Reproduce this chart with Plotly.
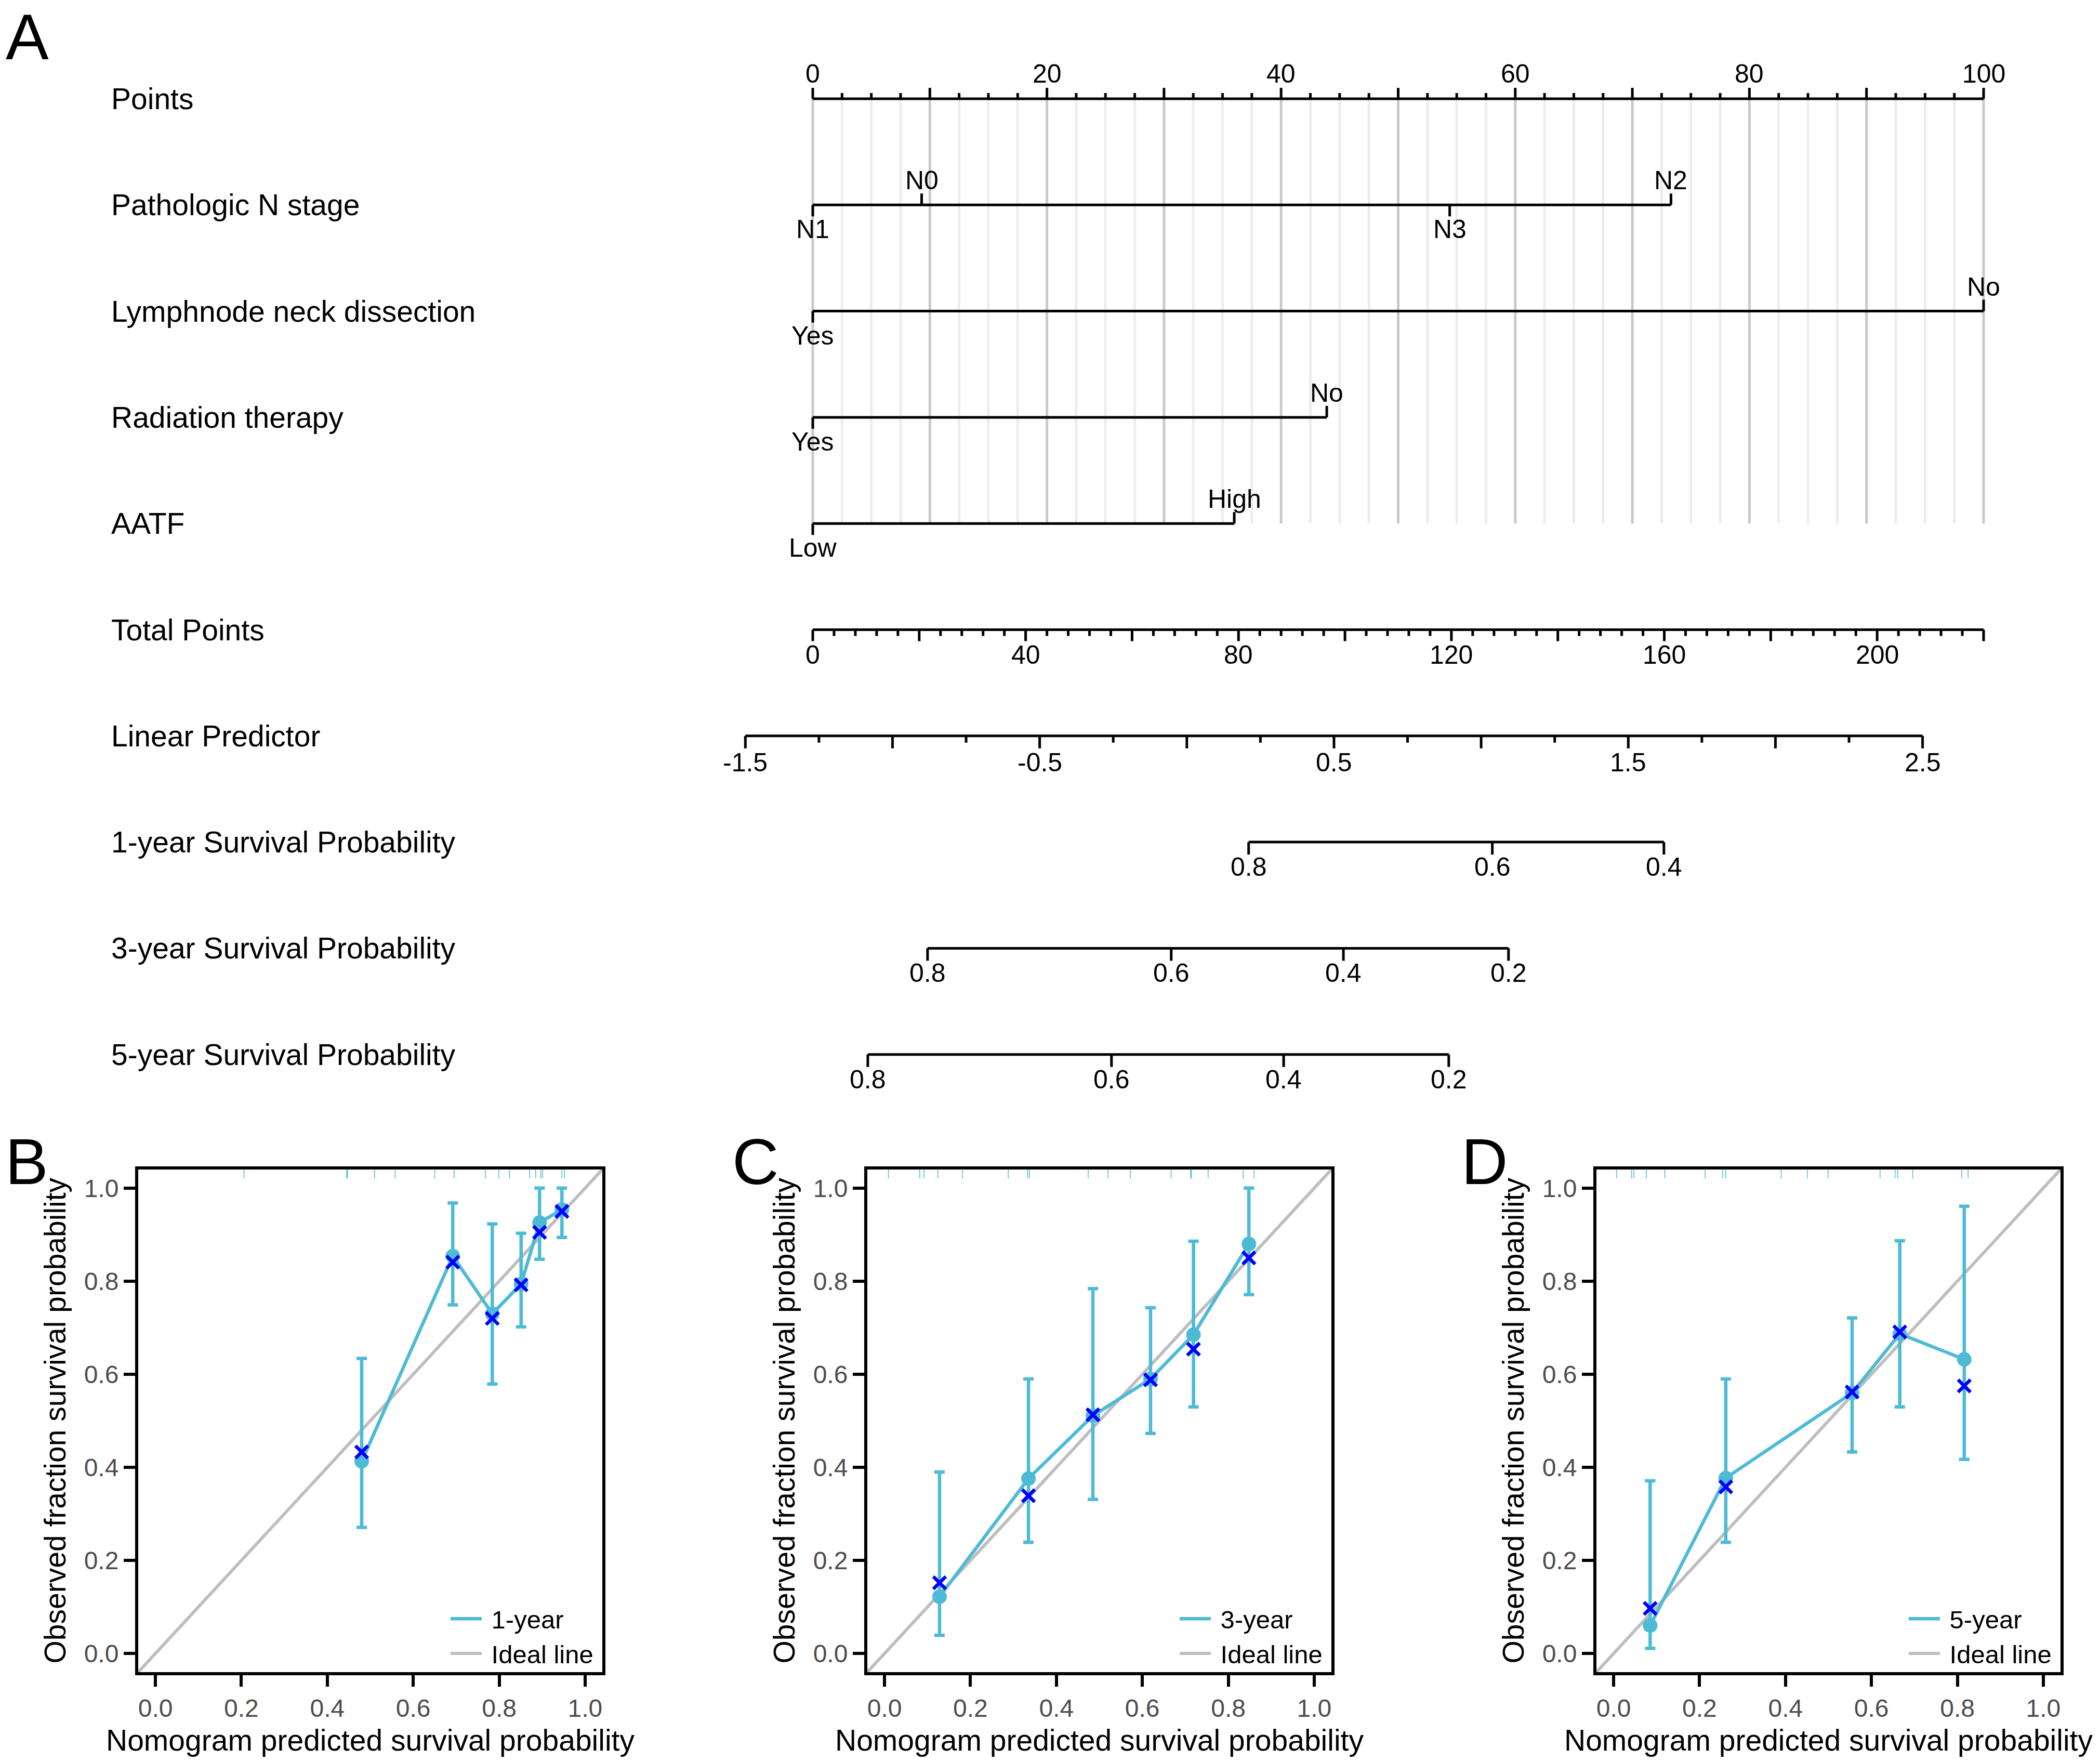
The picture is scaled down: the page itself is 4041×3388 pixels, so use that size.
import plotly.graph_objects as go

W, H = 4041, 3388
FONT = "Liberation Sans, Arial, sans-serif"

# ---------------- nomogram values ----------------
var_names = ["Pathologic N stage", "Lymphnode neck dissection", "Radiation therapy", "AATF"]
var_levels = [["N1", "N0", "N3", "N2"], ["Yes", "No"], ["Yes", "No"], ["Low", "High"]]
var_points = [[0, 9.3, 54.4, 73.3], [0, 100], [0, 43.9], [0, 36.0]]

points_max = 100
points_labels = [0, 20, 40, 60, 80, 100]
total_points_max = 220
total_points_labels = [0, 40, 80, 120, 160, 200]
lp_labels = [-1.5, -0.5, 0.5, 1.5, 2.5]
lp_at_zero_total = -1.271
total_per_lp = 55.3

surv_names = ["1-year Survival Probability", "3-year Survival Probability", "5-year Survival Probability"]
surv_labels = [[0.8, 0.6, 0.4], [0.8, 0.6, 0.4, 0.2], [0.8, 0.6, 0.4, 0.2]]
surv_lp = [[0.210, 1.038, 1.621], [-0.881, -0.053, 0.532, 1.093], [-1.084, -0.256, 0.329, 0.890]]

# ---------------- calibration values ----------------
cal_labels = ["1-year", "3-year", "5-year"]
cal_pred = [[0.480, 0.692, 0.784, 0.851, 0.894, 0.946],
            [0.128, 0.335, 0.485, 0.619, 0.719, 0.848],
            [0.085, 0.261, 0.555, 0.666, 0.816]]
cal_obs = [[0.413, 0.854, 0.730, 0.794, 0.926, 0.954],
           [0.122, 0.376, 0.511, 0.590, 0.685, 0.880],
           [0.060, 0.377, 0.560, 0.687, 0.632]]
cal_corrected = [[0.433, 0.841, 0.720, 0.792, 0.905, 0.950],
                 [0.152, 0.339, 0.513, 0.588, 0.654, 0.850],
                 [0.097, 0.358, 0.562, 0.691, 0.575]]
cal_upper = [[0.634, 0.968, 0.923, 0.903, 1.0, 1.0],
             [0.390, 0.590, 0.784, 0.743, 0.886, 1.0],
             [0.371, 0.590, 0.721, 0.887, 0.961]]
cal_lower = [[0.271, 0.749, 0.579, 0.702, 0.847, 0.894],
             [0.039, 0.239, 0.331, 0.473, 0.530, 0.771],
             [0.011, 0.239, 0.433, 0.530, 0.417]]
rug_pred = [[0.206, 0.445, 0.447, 0.510, 0.558, 0.650, 0.695, 0.768, 0.799, 0.824, 0.871, 0.885, 0.897, 0.901, 0.946, 0.952],
            [0.009, 0.082, 0.092, 0.124, 0.181, 0.288, 0.333, 0.337, 0.474, 0.520, 0.572, 0.667, 0.712, 0.714, 0.753, 0.835, 0.860],
            [0.007, 0.042, 0.047, 0.076, 0.119, 0.213, 0.254, 0.261, 0.390, 0.451, 0.499, 0.620, 0.655, 0.661, 0.696, 0.810, 0.825]]
panel_letters = ["B", "C", "D"]

# ---------------- layout constants ----------------
NOM_X0_PX = 1564      # pixel of 0 points
PX_PER_POINT = 22.53
ROW0_PX = 190
ROW_PX = 204.3
LABEL_X_PX = 212
LABEL_SIZE = 57
TICKLAB_SIZE = 50
LINE_W = 5
LAB_OFF = 48

BLUE_L = "#4DBBD5"
GREY_IDEAL = "#BEBEBE"

PANEL_LEFT = [266, 1669, 3072]
PANEL_W = 893
PANEL_TOP, PANEL_BOT = 2250, 3217
AX_RANGE = [-0.04, 1.04]


def tp_to_pts(tp):
    return tp * points_max / total_points_max


def lp_to_pts(lp):
    return tp_to_pts((lp - lp_at_zero_total) * total_per_lp)


def frange(a, b, step):
    out = []
    n = int(round((b - a) / step))
    for i in range(n + 1):
        out.append(round(a + i * step, 6))
    return out


fig = go.Figure()

seg_x, seg_y = [], []
annos = []


def add_seg(x0, x1, y0, y1):
    seg_x.extend([x0, x1, None])
    seg_y.extend([y0, y1, None])


def add_label(text, x, row, above, off=LAB_OFF):
    annos.append(dict(text=text, x=x, y=row, xref="x", yref="y", showarrow=False,
                      xanchor="center", yanchor="middle", yshift=off if above else -off,
                      font=dict(size=TICKLAB_SIZE, color="black", family=FONT)))


def t(px):
    return px / ROW_PX


# gridlines behind the point scale and the predictors
grid_vals = frange(0, points_max, 2.5)
n_var_rows = len(var_names)
for major in (False, True):
    gx, gy = [], []
    for v in grid_vals:
        if (abs(v % 10) < 1e-6) == major:
            gx.extend([v, v, None])
            gy.extend([0, n_var_rows, None])
    fig.add_trace(go.Scatter(x=gx, y=gy, mode="lines", hoverinfo="skip", showlegend=False,
                             line=dict(color="#C9C9C9" if major else "#EDEDED", width=5)))

row_names = ["Points"] + var_names + ["Total Points", "Linear Predictor"] + surv_names

# Points scale (row 0)
add_seg(0, points_max, 0, 0)
for v in grid_vals:
    ln = t(21) if abs(v % 10) < 1e-6 else t(11)
    add_seg(v, v, 0, -ln)
for v in points_labels:
    add_label(str(v), v, 0, True)

# predictor rows
for i, (levels, pts) in enumerate(zip(var_levels, var_points)):
    row = i + 1
    add_seg(min(pts), max(pts), row, row)
    order = sorted(range(len(pts)), key=lambda k: pts[k])
    for j, k in enumerate(order):
        above = j % 2 == 1
        add_seg(pts[k], pts[k], row, row - t(22) if above else row + t(22))
        add_label(levels[k], pts[k], row, above, off=47)

# Total points row
row = n_var_rows + 1
add_seg(0, tp_to_pts(total_points_max), row, row)
for v in frange(0, total_points_max, 4):
    ln = t(22) if abs(v % 20) < 1e-6 else t(12)
    add_seg(tp_to_pts(v), tp_to_pts(v), row, row + ln)
for v in total_points_labels:
    add_label(str(v), tp_to_pts(v), row, False)

# Linear predictor row
row += 1
for v in frange(min(lp_labels), max(lp_labels), 0.25):
    ln = t(24) if abs((v * 2) % 1) < 1e-6 else t(13)
    add_seg(lp_to_pts(v), lp_to_pts(v), row, row + ln)
add_seg(lp_to_pts(min(lp_labels)), lp_to_pts(max(lp_labels)), row, row)
for v in lp_labels:
    add_label(f"{v:g}", lp_to_pts(v), row, False, off=51)

# survival probability rows
for labs, lps in zip(surv_labels, surv_lp):
    row += 1
    xs = [lp_to_pts(v) for v in lps]
    add_seg(min(xs), max(xs), row, row)
    for lab, x in zip(labs, xs):
        add_seg(x, x, row, row + t(24))
        add_label(f"{lab:.1f}", x, row, False)

fig.add_trace(go.Scatter(x=seg_x, y=seg_y, mode="lines", hoverinfo="skip", showlegend=False,
                         line=dict(color="black", width=LINE_W)))

for r, name in enumerate(row_names):
    annos.append(dict(text=name, x=LABEL_X_PX / W, y=r, xref="paper", yref="y", showarrow=False,
                      xanchor="left", yanchor="middle",
                      font=dict(size=LABEL_SIZE, color="black", family=FONT)))

annos.append(dict(text="A", x=52 / W, y=1, xref="paper", yref="paper", showarrow=False,
                  xanchor="center", yanchor="top", font=dict(size=124, color="black", family=FONT)))

layout = dict(
    width=W, height=H, autosize=False,
    margin=dict(l=0, r=0, t=0, b=0),
    paper_bgcolor="white", plot_bgcolor="rgba(0,0,0,0)",
    font=dict(family=FONT, color="black"),
    xaxis=dict(domain=[0, 1], range=[-NOM_X0_PX / PX_PER_POINT, (W - NOM_X0_PX) / PX_PER_POINT],
               visible=False, fixedrange=True),
    yaxis=dict(domain=[0, 1], range=[(H - ROW0_PX) / ROW_PX, -ROW0_PX / ROW_PX],
               visible=False, fixedrange=True),
)

# ---------------- calibration panels ----------------
for k in range(3):
    n = k + 2
    xa, ya = f"x{n}", f"y{n}"
    leg = "legend" if k == 0 else f"legend{k + 1}"
    left = PANEL_LEFT[k]
    right = left + PANEL_W

    fig.add_trace(go.Scatter(x=AX_RANGE, y=AX_RANGE, mode="lines", name="\u00a0Ideal line",
                             line=dict(color=GREY_IDEAL, width=6), xaxis=xa, yaxis=ya,
                             legend=leg, legendrank=2))

    rx, ry = [], []
    for v in rug_pred[k]:
        rx.extend([v, v, None])
        ry.extend([AX_RANGE[1], AX_RANGE[1] - 0.019, None])
    fig.add_trace(go.Scatter(x=rx, y=ry, mode="lines", showlegend=False, hoverinfo="skip",
                             line=dict(color=BLUE_L, width=1.5), xaxis=xa, yaxis=ya))

    fig.add_trace(go.Scatter(x=cal_pred[k], y=cal_obs[k], mode="lines", name="\u00a0" + cal_labels[k],
                             line=dict(color=BLUE_L, width=6.5), xaxis=xa, yaxis=ya,
                             legend=leg, legendrank=1))

    err_up = [u - o for u, o in zip(cal_upper[k], cal_obs[k])]
    err_dn = [o - l for o, l in zip(cal_obs[k], cal_lower[k])]
    fig.add_trace(go.Scatter(x=cal_pred[k], y=cal_obs[k], mode="markers", showlegend=False,
                             marker=dict(size=28, color=BLUE_L),
                             error_y=dict(type="data", array=err_up, arrayminus=err_dn,
                                          color=BLUE_L, thickness=6.5, width=10),
                             xaxis=xa, yaxis=ya))

    fig.add_trace(go.Scatter(x=cal_pred[k], y=cal_corrected[k], mode="markers", showlegend=False,
                             marker=dict(symbol="x-thin", size=24, color="#0000FF",
                                         line=dict(width=6.5, color="#0000FF")),
                             xaxis=xa, yaxis=ya))

    axis_common = dict(range=AX_RANGE, showline=True, mirror=True, linecolor="black", linewidth=6,
                       ticks="outside", ticklen=22, tickwidth=6, tickcolor="black",
                       tickvals=[0, 0.2, 0.4, 0.6, 0.8, 1.0], tickformat=".1f",
                       tickfont=dict(size=48, color="#4D4D4D", family=FONT),
                       showgrid=False, zeroline=False, fixedrange=True)
    layout[f"xaxis{n}"] = dict(domain=[left / W, right / W], anchor=ya, **axis_common)
    layout[f"yaxis{n}"] = dict(domain=[1 - PANEL_BOT / H, 1 - PANEL_TOP / H], anchor=xa, **axis_common)

    layout[leg] = dict(x=(right - 12) / W, xanchor="right", y=1 - (PANEL_BOT + 3) / H, yanchor="bottom",
                       bgcolor="rgba(0,0,0,0)", font=dict(size=49, color="black", family=FONT),
                       itemwidth=60, tracegroupgap=0)

    annos.append(dict(text="Nomogram predicted survival probability", x=(left + right) / 2 / W,
                      y=1 - 3348 / H, xref="paper", yref="paper", showarrow=False,
                      xanchor="center", yanchor="middle", font=dict(size=57, color="black", family=FONT)))
    annos.append(dict(text="Observed fraction survival probability", x=(left - 161) / W,
                      y=1 - (PANEL_TOP + PANEL_BOT) / 2 / H, xref="paper", yref="paper", showarrow=False,
                      textangle=-90, xanchor="center", yanchor="middle",
                      font=dict(size=57, color="black", family=FONT)))
    annos.append(dict(text=panel_letters[k], x=(left - 215) / W, y=1 - 2235 / H, xref="paper", yref="paper",
                      showarrow=False, xanchor="center", yanchor="middle",
                      font=dict(size=124, color="black", family=FONT)))

layout["annotations"] = annos
fig.update_layout(**layout)

# the page's default body margin would shift the fixed-size figure
fig.write_html("out.html", config={"displayModeBar": False},
               post_script="document.body.style.margin='0px';")
